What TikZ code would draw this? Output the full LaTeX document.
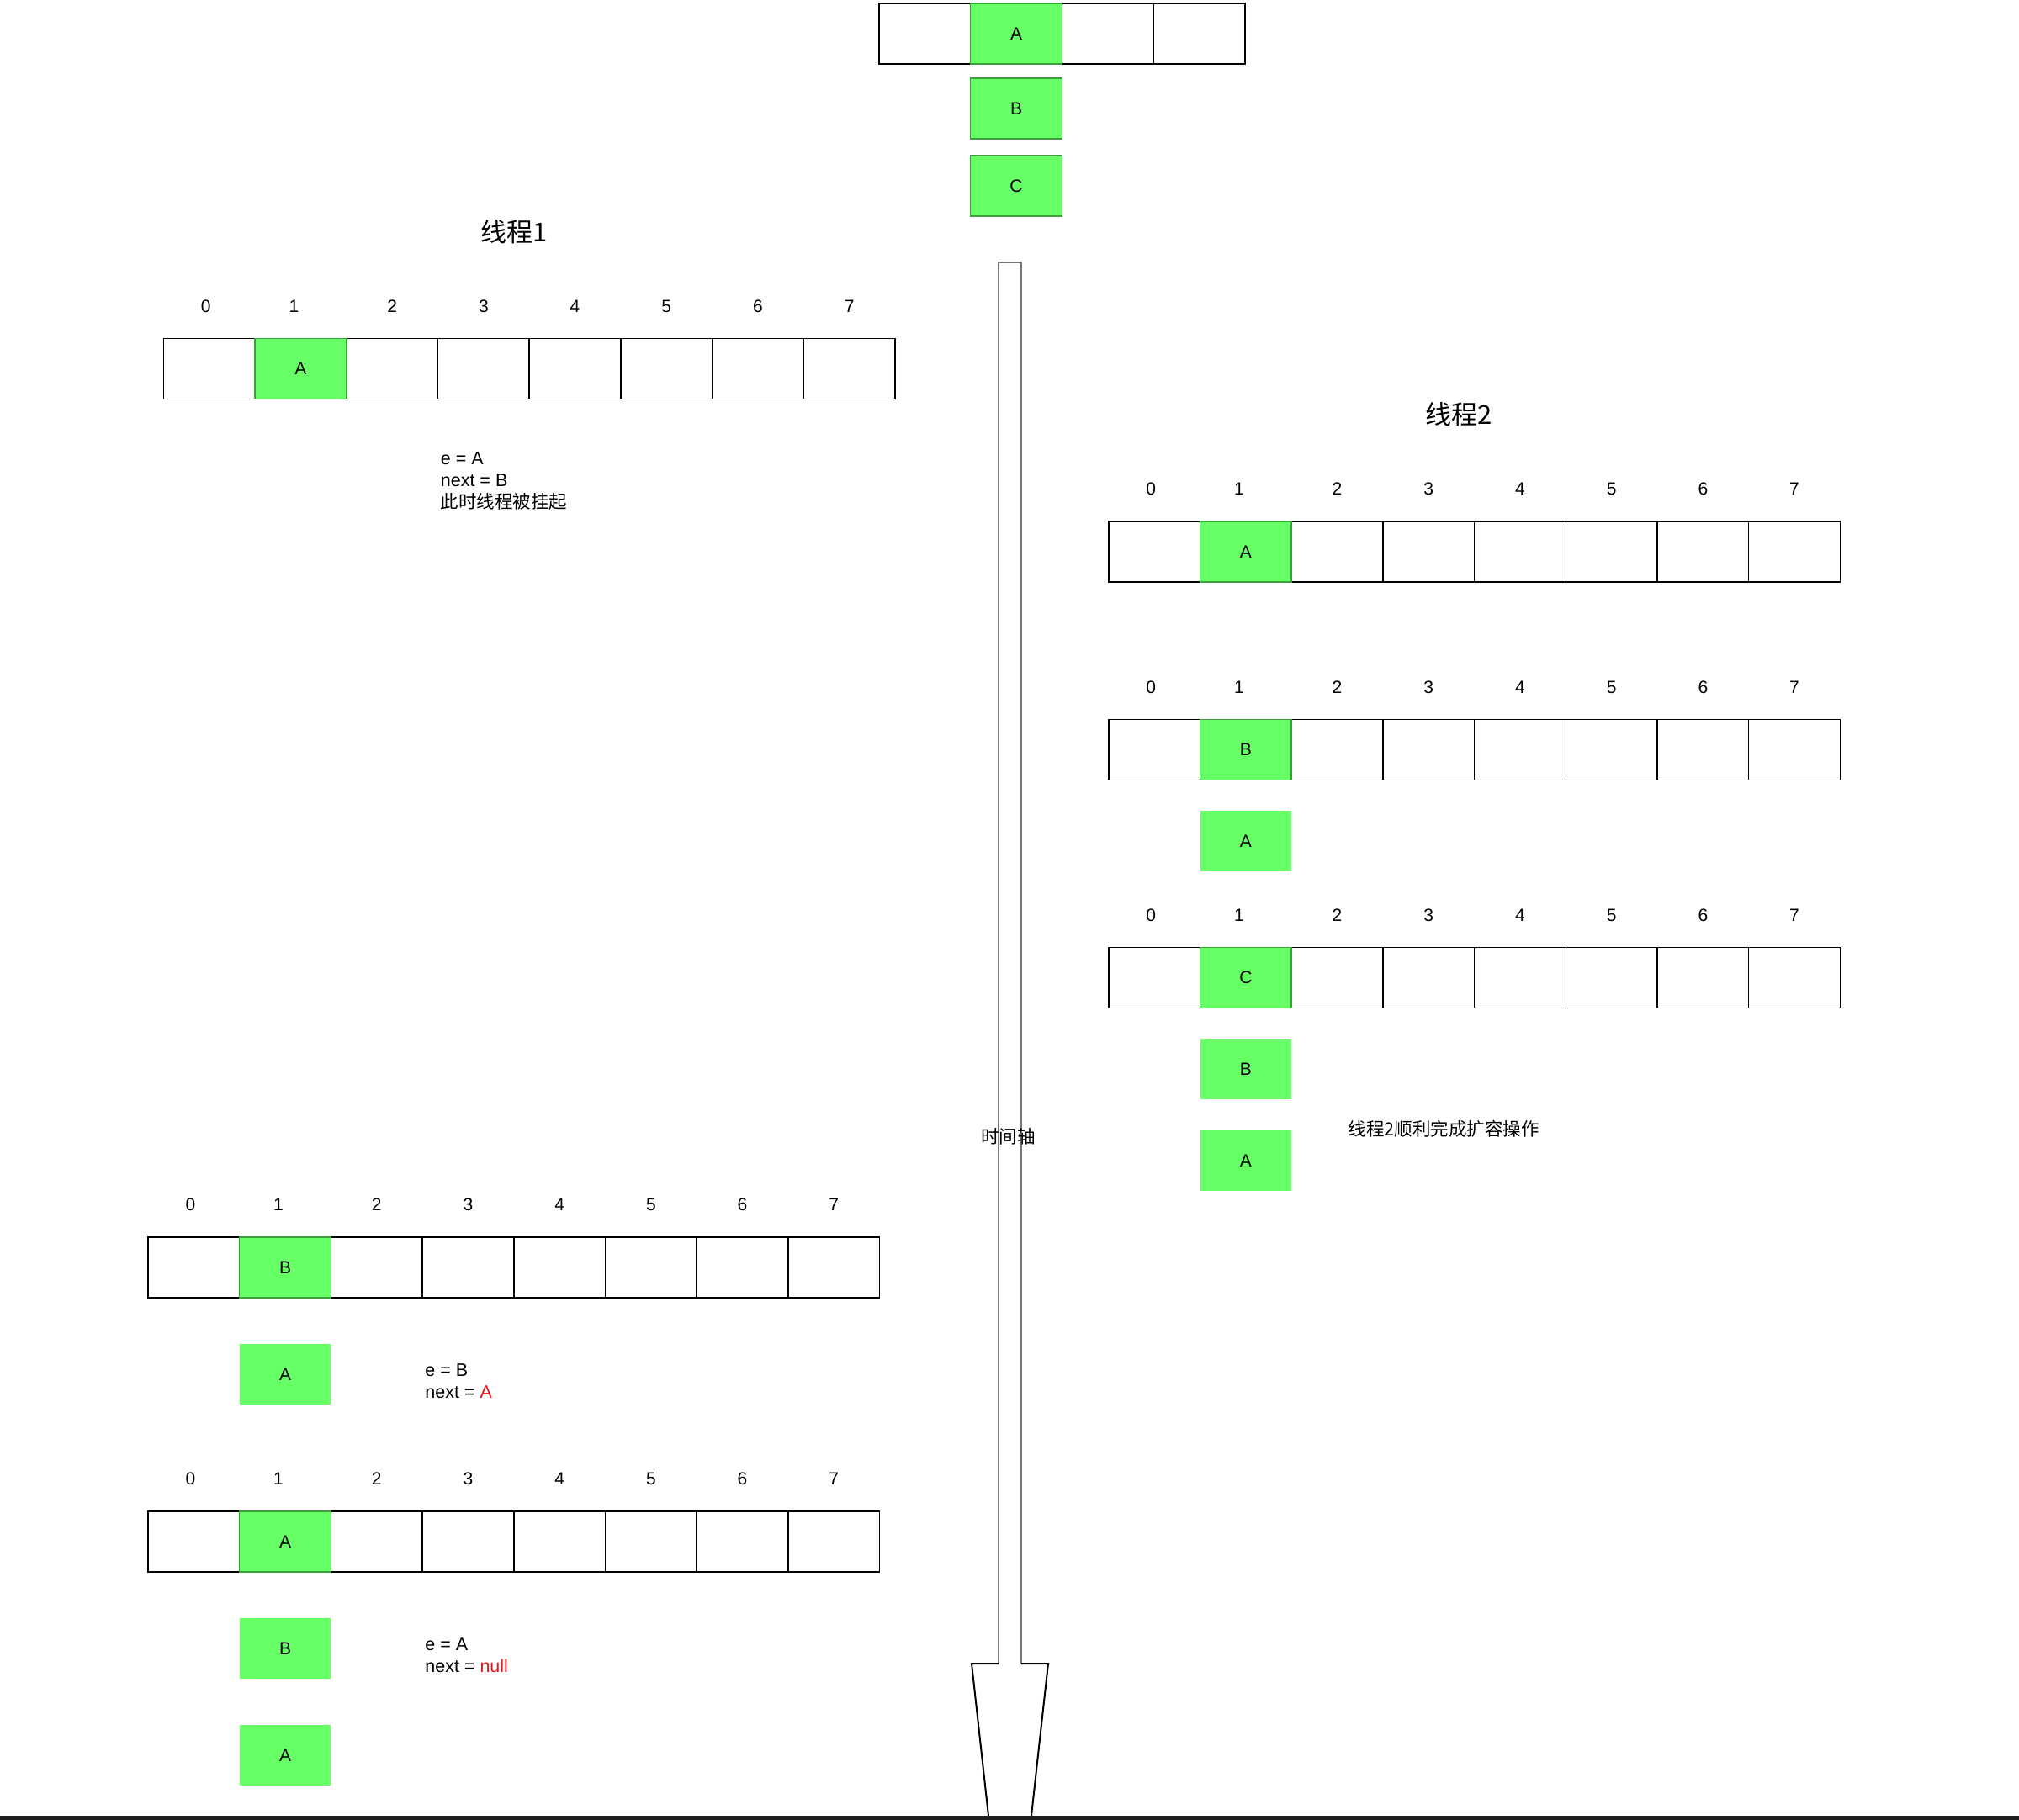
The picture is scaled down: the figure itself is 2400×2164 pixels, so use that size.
\documentclass[tikz,border=0pt]{standalone}
\usepackage{fontspec}
\setmainfont{Liberation Sans}
\newfontfamily\cjk{Noto Sans CJK SC}
\definecolor{gfill}{HTML}{66FF66}
\definecolor{gline}{HTML}{3E9E3E}
\definecolor{nred}{HTML}{E8141C}
\definecolor{shaftc}{HTML}{777777}

\newcommand\hmarray[5]{% #1 name, #2 x0, #3 yc, #4 green idx, #5 letter
  \foreach \i/\o in {0/-4,1/-8,2/0,3/0,4/0,5/0,6/0,7/0}{
    \ifnum\i=#4\relax\else
      \node[cell] (#1c\i) at ({#2+108.7*(\i+0.5)},#3) {};
    \fi
    \node[idx] (#1i\i) at ({#2+108.7*(\i+0.5)+\o},{#3-74.5}) {\i};
  }
  \node[gcell] (#1c#4) at ({#2+108.7*(#4+0.5)},#3) {#5};
}

\begin{document}
\begin{tikzpicture}[x=0.5pt,y=-0.5pt,
  cell/.style={draw=black, line width=0.75pt, minimum width=54.35pt, minimum height=36pt,
    inner sep=0pt, font=\fontsize{10.5}{12}\selectfont, anchor=center},
  gcell/.style={cell, fill=gfill, draw=gline},
  gbox/.style={cell, fill=gfill, draw=none},
  idx/.style={font=\fontsize{10.5}{12}\selectfont, inner sep=0pt},
  txt/.style={font=\fontsize{10.75}{13}\selectfont, align=left, inner sep=0pt, anchor=west},
  ttl/.style={font=\cjk\fontsize{15.5}{18}\selectfont, inner sep=0pt},
]
\path[use as bounding box] (0,0) rectangle (2400,2164);

% top: original table
\node[cell] (top0) at ({1045+108.7*0.5},40) {};
\node[cell] (top2) at ({1045+108.7*2.5},40) {};
\node[cell] (top3) at ({1045+108.7*3.5},40) {};
\node[gcell] (top1) at ({1045+108.7*1.5},40) {A};
\node[gcell] (topB) at ({1045+108.7*1.5},129) {B};
\node[gcell] (topC) at ({1045+108.7*1.5},221) {C};

% time axis
\draw[line width=1pt, shaftc] (1187,1978) -- (1187,312) -- (1214,312) -- (1214,1978);
\draw[line width=1pt, black] (1187,1978) -- (1155,1978) -- (1175,2159);
\draw[line width=1pt, black] (1214,1978) -- (1246,1978) -- (1226,2159);
\node[txt, anchor=center] (axis) at (1198.5,1351.5) {\cjk 时间轴};

% thread 1
\node[ttl] (t1title) at (610.7,275.5) {线程1};
\hmarray{ta}{194.4}{438.5}{1}{A}
\node[txt] (t1note) at (523.5,572) {e = A\\next = B\\{\cjk 此时线程被挂起}};

\hmarray{tb}{176}{1506.9}{1}{B}
\node[gbox] (tbA) at ({176+108.7*1.5},1633.9) {A};
\node[txt] (t1note2) at (505,1642.3) {e = B\\next = \textcolor{nred}{A}};

\hmarray{tc}{176}{1832.9}{1}{A}
\node[gbox] (tcB) at ({176+108.7*1.5},1959.9) {B};
\node[gbox] (tcA) at ({176+108.7*1.5},2087) {A};
\node[txt] (t1note3) at (505,1968.3) {e = A\\next = \textcolor{nred}{null}};

% thread 2
\node[ttl] (t2title) at (1734,493) {线程2};
\hmarray{ua}{1317.8}{655.9}{1}{A}
\hmarray{ub}{1317.8}{891.6}{1}{B}
\node[gbox] (ubA) at ({1317.8+108.7*1.5},1000.2) {A};
\hmarray{uc}{1317.8}{1162.5}{1}{C}
\node[gbox] (ucB) at ({1317.8+108.7*1.5},1271.2) {B};
\node[gbox] (ucA) at ({1317.8+108.7*1.5},1379.8) {A};
\node[txt] (t2note) at (1602.5,1342.3) {\cjk 线程2顺利完成扩容操作};

% bottom edge bar
\fill[black!88] (0,2159) rectangle (2400,2164);
\end{tikzpicture}
\end{document}
